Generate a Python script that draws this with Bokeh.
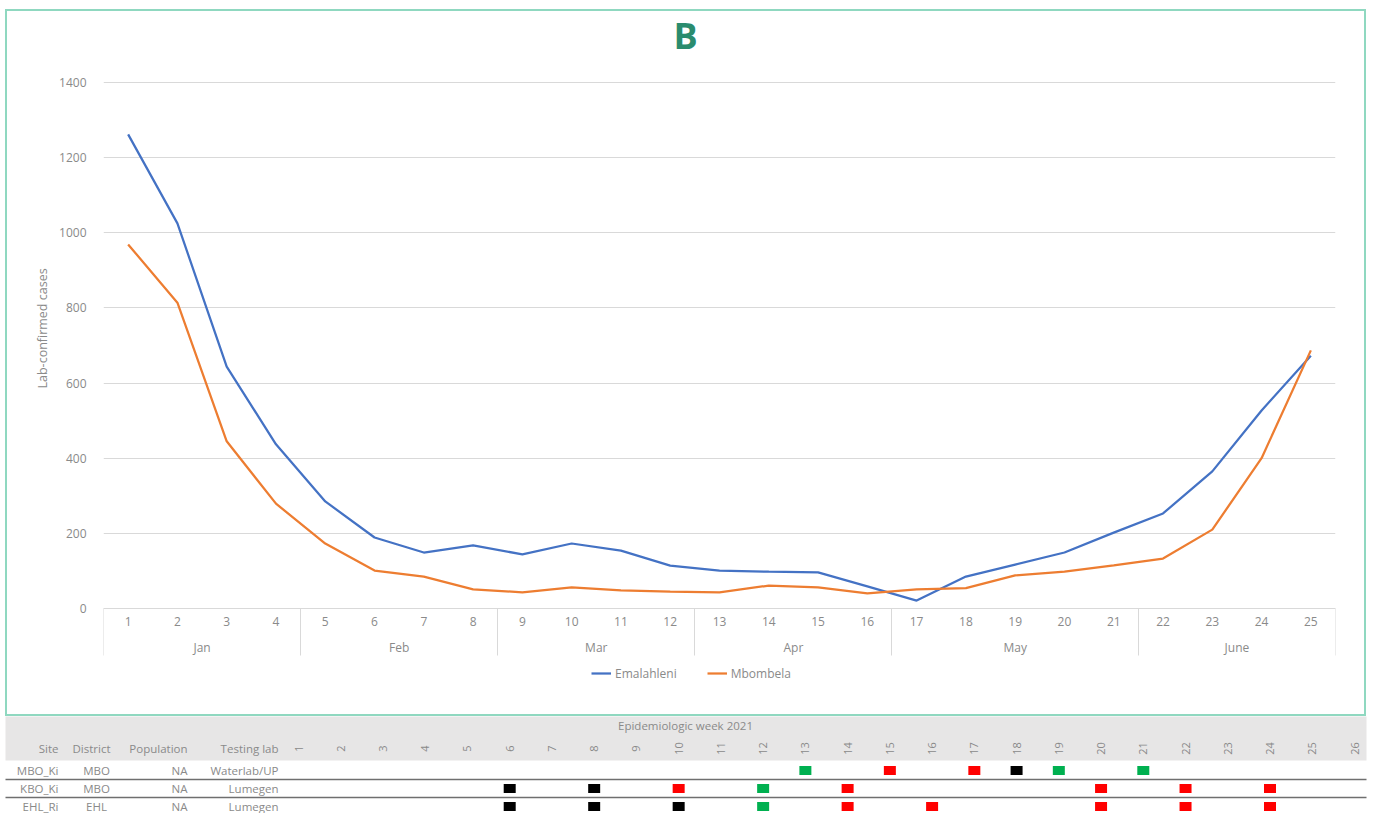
import math
from bokeh.plotting import figure
from bokeh.models import (Range1d, FixedTicker, Legend, LegendItem, LinearAxis, ColumnDataSource, Title)
from bokeh.embed import file_html
from bokeh.resources import INLINE
from bokeh.core.properties import value

# ---------------- data ----------------
weeks = list(range(1, 26))
week_labels = [str(w) for w in weeks]
emalahleni = [1262, 1025, 644, 437, 285, 189, 149, 168, 144, 173, 154, 114, 101,
              98, 96, 59, 21, 85, 117, 149, 202, 253, 365, 527, 673]
mbombela = [969, 814, 445, 279, 173, 101, 85, 51, 43, 56, 48, 45, 43,
            61, 56, 40, 51, 54, 88, 98, 115, 133, 210, 400, 687]
months = ["Jan", "Feb", "Mar", "Apr", "May", "June"]
month_weeks = [[1, 2, 3, 4], [5, 6, 7, 8], [9, 10, 11, 12], [13, 14, 15, 16],
               [17, 18, 19, 20, 21], [22, 23, 24, 25]]
y_ticks = [0, 200, 400, 600, 800, 1000, 1200, 1400]

table_weeks = list(range(1, 27))
sites = ["MBO_Ki", "KBO_Ki", "EHL_Ri"]
districts = ["MBO", "MBO", "EHL"]
populations = ["NA", "NA", "NA"]
labs = ["Waterlab/UP", "Lumegen", "Lumegen"]
mbo_ki_weeks = [13, 15, 17, 18, 19, 21]
mbo_ki_status = ["G", "R", "R", "B", "G", "G"]
kbo_ki_weeks = [6, 8, 10, 12, 14, 20, 22, 24]
kbo_ki_status = ["B", "B", "R", "G", "R", "R", "R", "R"]
ehl_ri_weeks = [6, 8, 10, 12, 14, 16, 20, 22, 24]
ehl_ri_status = ["B", "B", "B", "G", "R", "R", "R", "R", "R"]
status_colors = {"G": "#00b050", "R": "#ff0000", "B": "#000000"}

# ---------------- styles ----------------
FONT = "Open Sans"
GRAY = "#8a8a8a"
GRID = "#d9d9d9"
BLUE = "#4472c4"
ORANGE = "#ed7d31"

# ---------------- chart geometry (pixels) ----------------
CW, CH = 1361, 707          # chart box incl. 2px border
CX, CY = 5, 9               # chart box offset on page
BORDER = 2
F_LEFT, F_RIGHT, F_TOP, F_ZERO, F_BOTTOM = 103, 1335, 82, 608, 700
Y_MAX = 1400
ox, oy = CX + BORDER, CY + BORDER        # canvas origin on page
PXU = (F_ZERO - F_TOP) / Y_MAX            # pixels per case
PXX = (F_RIGHT - F_LEFT) / 25             # pixels per week
Y_MIN = -(F_BOTTOM - F_ZERO) / PXU        # room below zero for axis labels/legend
Y_TOP = Y_MAX + (F_TOP - oy) / PXU        # room above for the panel letter


def cx(px):
    return 0.5 + (px - F_LEFT) / PXX


def cy(px):
    return (F_ZERO - px) / PXU


p = figure(width=CW, height=CH, x_range=Range1d(0.5, 25.5), y_range=Range1d(Y_MIN, Y_TOP),
           output_backend="svg", toolbar_location=None, title=None,
           min_border_left=F_LEFT - ox, min_border_right=ox + CW - F_RIGHT,
           min_border_top=0, min_border_bottom=oy + CH - F_BOTTOM)
p.margin = (CY, 0, 0, CX)
p.styles = {"border": "2px solid #8fd8c0"}
p.outline_line_color = None
p.xgrid.visible = False
p.ygrid.grid_line_color = GRID
p.ygrid.grid_line_width = 1

# panel letter
p.text(x=[cx(685)], y=[cy(35)], text=["B"], text_font=value(FONT), text_font_size="36px",
       text_font_style="bold", text_color="#2a8c6e", text_align="center",
       text_baseline="middle")

yax = p.yaxis[0]
yax.ticker = FixedTicker(ticks=y_ticks)
yax.axis_line_color = None
yax.major_tick_line_color = None
yax.minor_tick_line_color = None
yax.major_label_text_font = FONT
yax.major_label_text_font_size = "12px"
yax.major_label_text_color = GRAY
yax.major_label_standoff = 11

ylab = Title(text="Lab-confirmed cases", align="left", offset=F_BOTTOM - 388,
             standoff=12, text_font=FONT, text_font_size="12.5px", text_font_style="normal",
             text_color=GRAY)
p.add_layout(ylab, "left")

# week labels on the zero line
xax = p.xaxis[0]
xax.fixed_location = 0
xax.ticker = FixedTicker(ticks=weeks)
xax.major_label_overrides = {w: lbl for w, lbl in zip(weeks, week_labels)}
xax.axis_line_color = GRID
xax.major_tick_line_color = None
xax.minor_tick_line_color = None
xax.major_tick_out = 0
xax.major_tick_in = 0
xax.minor_tick_out = 0
xax.minor_tick_in = 0
xax.major_label_text_font = FONT
xax.major_label_text_font_size = "12px"
xax.major_label_text_color = GRAY
xax.major_label_standoff = 8

# month group separators
boundaries = [0.5] + [mw[-1] + 0.5 for mw in month_weeks]
sep = LinearAxis(fixed_location=0, ticker=FixedTicker(ticks=boundaries))
sep.axis_line_color = None
sep.major_tick_line_color = GRID
sep.major_tick_out = 47
sep.major_tick_in = 0
sep.minor_tick_line_color = None
sep.major_label_text_color = None
p.add_layout(sep, "below")

# month labels
month_centers = [sum(mw) / len(mw) for mw in month_weeks]
max2 = LinearAxis(fixed_location=0, ticker=FixedTicker(ticks=month_centers),
                  major_label_overrides={c: m for c, m in zip(month_centers, months)})
max2.axis_line_color = None
max2.major_tick_line_color = None
max2.minor_tick_line_color = None
max2.major_tick_out = 0
max2.major_tick_in = 0
max2.minor_tick_out = 0
max2.minor_tick_in = 0
max2.major_label_text_font = FONT
max2.major_label_text_font_size = "12px"
max2.major_label_text_color = GRAY
max2.major_label_standoff = 30
p.add_layout(max2, "below")

r1 = p.line(weeks, emalahleni, line_color=BLUE, line_width=2.25)
r2 = p.line(weeks, mbombela, line_color=ORANGE, line_width=2.25)

legend = Legend(items=[LegendItem(label="Emalahleni", renderers=[r1]),
                       LegendItem(label="Mbombela", renderers=[r2])],
                orientation="horizontal",
                location=(591 - F_LEFT, F_BOTTOM - 673 - 10),
                border_line_color=None, background_fill_alpha=0,
                margin=0, padding=0, spacing=30, glyph_width=20, glyph_height=20,
                label_standoff=4, label_height=20,
                label_text_font=FONT, label_text_font_size="12px", label_text_color=GRAY)
p.add_layout(legend, "center")

# ---------------- table ----------------
TW, TH = 1373, 97
COL_PX = 42.24          # pixel width of one week column
W1_PX = 298             # pixel x of week 1
ROW_PX = 18             # pixel height of one table row
ROW0_PX = 54            # pixel y of first row centre inside the table figure
x0 = 1 - W1_PX / COL_PX
x1 = x0 + TW / COL_PX
y_top = -ROW0_PX / ROW_PX
y_bot = y_top + TH / ROW_PX


def xd(px):
    return x0 + px / COL_PX


def yd(px):
    return y_top + px / ROW_PX


t = figure(width=TW, height=TH, x_range=Range1d(x0, x1), y_range=Range1d(y_bot, y_top),
           x_axis_type=None, y_axis_type=None, min_border=0, toolbar_location=None,
           output_backend="svg", outline_line_color=None)
t.grid.visible = False

# header band
t.quad(left=[xd(5)], right=[xd(1366)], top=[y_top - 1], bottom=[yd(44)],
       fill_color="#e7e6e6", line_color=None)

TFONT = value(FONT)
TS = "11.5px"
t.text(x=[xd(685)], y=[yd(9)], text=["Epidemiologic week 2021"],
       text_font=TFONT, text_font_size=TS, text_color=GRAY,
       text_align="center", text_baseline="middle")
hy = yd(32)
t.text(x=[xd(58)], y=[hy], text=["Site"], text_font=TFONT, text_font_size=TS,
       text_color=GRAY, text_align="right", text_baseline="middle")
t.text(x=[xd(110)], y=[hy], text=["District"], text_font=TFONT, text_font_size=TS,
       text_color=GRAY, text_align="right", text_baseline="middle")
t.text(x=[xd(187)], y=[hy], text=["Population"], text_font=TFONT, text_font_size=TS,
       text_color=GRAY, text_align="right", text_baseline="middle")
t.text(x=[xd(278)], y=[hy], text=["Testing lab"], text_font=TFONT, text_font_size=TS,
       text_color=GRAY, text_align="right", text_baseline="middle")
t.text(x=table_weeks, y=[hy] * len(table_weeks), text=[str(w) for w in table_weeks],
       angle=math.pi / 2, text_font=TFONT, text_font_size="11px", text_color=GRAY,
       text_align="center", text_baseline="middle")

rows = list(range(len(sites)))
t.text(x=[xd(58)] * 3, y=rows, text=sites, text_font=TFONT, text_font_size=TS,
       text_color=GRAY, text_align="right", text_baseline="middle")
t.text(x=[xd(96)] * 3, y=rows, text=districts, text_font=TFONT, text_font_size=TS,
       text_color=GRAY, text_align="center", text_baseline="middle")
t.text(x=[xd(187)] * 3, y=rows, text=populations, text_font=TFONT, text_font_size=TS,
       text_color=GRAY, text_align="right", text_baseline="middle")
t.text(x=[xd(278)] * 3, y=rows, text=labs, text_font=TFONT, text_font_size=TS,
       text_color=GRAY, text_align="right", text_baseline="middle")

# row separators
for r in rows[:-1]:
    t.segment(x0=[xd(5)], x1=[xd(1366)], y0=[r + 0.5], y1=[r + 0.5],
              line_color="#6f6f6f", line_width=1.5)

mx, my, mc = [], [], []
for r, (wk, st) in enumerate([(mbo_ki_weeks, mbo_ki_status),
                              (kbo_ki_weeks, kbo_ki_status),
                              (ehl_ri_weeks, ehl_ri_status)]):
    for w, s in zip(wk, st):
        mx.append(w)
        my.append(r)
        mc.append(status_colors[s])
src = ColumnDataSource(dict(x=mx, y=my, c=mc))
t.rect(x="x", y="y", width=12, height=9, width_units="screen", height_units="screen",
       fill_color="c", line_color=None, source=src)

open("out.html", "w").write(file_html([p, t], INLINE))
